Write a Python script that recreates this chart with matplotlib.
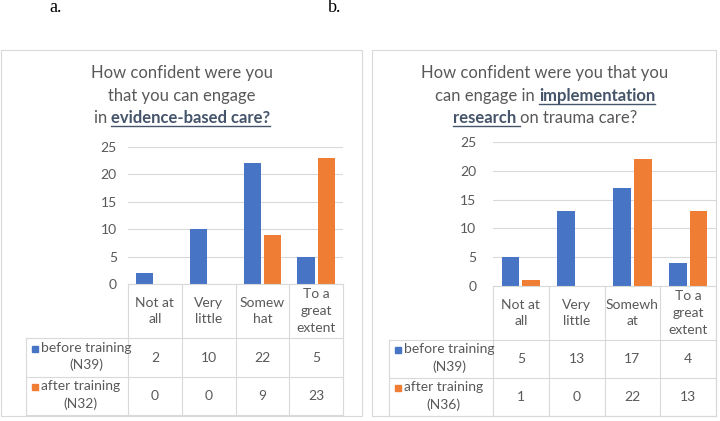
import numpy as np
import matplotlib.pyplot as plt
from matplotlib.patches import Rectangle
from matplotlib.lines import Line2D
import matplotlib.transforms as mtransforms

plt.rcParams['font.family'] = ['Lato', 'DejaVu Sans']

categories_a = ['Not at\nall', 'Very\nlittle', 'Somew\nhat', 'To a\ngreat\nextent']
categories_b = ['Not at\nall', 'Very\nlittle', 'Somewh\nat', 'To a\ngreat\nextent']
before_a = [2, 10, 22, 5]
after_a = [0, 0, 9, 23]
before_b = [5, 13, 17, 4]
after_b = [1, 0, 22, 13]
series_a = ['before training\n(N39)', 'after training\n(N32)']
series_b = ['before training\n(N39)', 'after training\n(N36)']
yticks = [0, 5, 10, 15, 20, 25]

W, H = 720, 421
BLUE = '#4874c6'
ORANGE = '#ef7d33'
GRID = '#d9d9d9'
TXT = '#595959'
BOLD = '#44546a'
FS = 10

fig = plt.figure(figsize=(W / 100, H / 100), dpi=100)


def px(x, y):
    # pixel (top-left origin) -> figure fraction
    return x / W, 1 - y / H


def hline(x0, x1, y, color=GRID, lw=0.8):
    fig.add_artist(Line2D([x0 / W, x1 / W], [1 - y / H, 1 - y / H],
                          color=color, lw=lw, transform=fig.transFigure))


def vline(x, y0, y1, color=GRID, lw=0.8):
    fig.add_artist(Line2D([x / W, x / W], [1 - y0 / H, 1 - y1 / H],
                          color=color, lw=lw, transform=fig.transFigure))


def panel(box, plot, tab, cats, before, after, names, pad):
    bx0, by0, bx1, by1 = box
    fig.add_artist(Rectangle(px(bx0, by1), (bx1 - bx0) / W, (by1 - by0) / H,
                             transform=fig.transFigure, fill=False,
                             ec=GRID, lw=0.8))
    x0, ytop, x1, ybot = plot
    l, b = px(x0, ybot)
    ax = fig.add_axes([l, b, (x1 - x0) / W, (ybot - ytop) / H])
    idx = np.arange(len(cats))
    ax.bar(idx - 0.187, before, width=0.32, color=BLUE)
    ax.bar(idx + 0.187, after, width=0.32, color=ORANGE)
    ax.set_xlim(-0.5, len(cats) - 0.5)
    ax.set_ylim(0, 25)
    ax.set_yticks(yticks)
    ax.set_xticks([])
    ax.grid(axis='y', color=GRID, lw=0.8)
    ax.set_axisbelow(True)
    for s in ax.spines.values():
        s.set_visible(False)
    ax.tick_params(axis='y', length=0, labelsize=FS, labelcolor=TXT, pad=pad)

    # data table below the axis
    tl, r0, r1, r2 = tab
    colw = (x1 - x0) / len(cats)
    hline(x0, x1, ybot)
    hline(tl, x1, r0)
    hline(tl, x1, r1)
    hline(tl, x1, r2)
    vline(x0, ybot, r2)
    vline(tl, r0, r2)
    for i in range(1, len(cats) + 1):
        vline(x0 + i * colw, ybot, r2)
    tr = mtransforms.blended_transform_factory(ax.transData, fig.transFigure)
    for i, c in enumerate(cats):
        ax.text(i, 1 - (ybot + r0) / 2 / H, c, transform=tr, ha='center',
                va='center', fontsize=FS, color=TXT, linespacing=1.45)
        ax.text(i, 1 - (r0 + r1) / 2 / H, str(before[i]), transform=tr,
                ha='center', va='center', fontsize=FS, color=TXT)
        ax.text(i, 1 - (r1 + r2) / 2 / H, str(after[i]), transform=tr,
                ha='center', va='center', fontsize=FS, color=TXT)
    for (ya, yb), name, col in zip([(r0, r1), (r1, r2)], names, [BLUE, ORANGE]):
        yc = (ya + yb) / 2
        fig.text((tl + 15) / W, 1 - (yc - 1) / H, name, ha='left',
                 va='center', multialignment='center', fontsize=FS,
                 color=TXT, linespacing=1.45)
        fig.add_artist(Rectangle(px(tl + 6, yc - 6), 6 / W, 6 / H,
                                 transform=fig.transFigure, color=col))
    return ax


def title_line(cx, y, parts):
    # parts: list of (text, bold_underlined)
    r = fig.canvas.get_renderer()
    objs = []
    total = 0
    for t, bold in parts:
        o = fig.text(0, 1 - y / H, t, fontsize=12, va='center', ha='left',
                     color=BOLD if bold else TXT,
                     fontweight='bold' if bold else 'normal')
        w = o.get_window_extent(r).width
        objs.append((o, w, bold))
        total += w
    x = cx - total / 2
    for o, w, bold in objs:
        o.set_x(x / W)
        if bold:
            hline(x, x + w, y + 8, color=BOLD, lw=1.0)
        x += w


panel((1, 50, 362, 416), (128, 147, 343, 284), (26, 338, 377, 415),
      categories_a, before_a, after_a, series_a, 8)
panel((372, 50, 716, 416), (493, 142, 716, 286), (389, 340, 378, 416),
      categories_b, before_b, after_b, series_b, 12)

fig.canvas.draw()
title_line(182, 73, [('How confident were you', False)])
title_line(182, 96, [('that you can engage', False)])
title_line(182, 118, [('in ', False), ('evidence-based care?', True)])
title_line(545, 73, [('How confident were you that you', False)])
title_line(545, 96, [('can engage in ', False), ('implementation', True)])
title_line(545, 118, [('research ', True), ('on trauma care?', False)])

fig.text(49 / W, 1 - 8 / H, 'a.', fontsize=13, family='Liberation Serif',
         va='center', ha='left', color='black')
fig.text(328 / W, 1 - 8 / H, 'b.', fontsize=13, family='Liberation Serif',
         va='center', ha='left', color='black')

fig.savefig('out.png', dpi=100)
